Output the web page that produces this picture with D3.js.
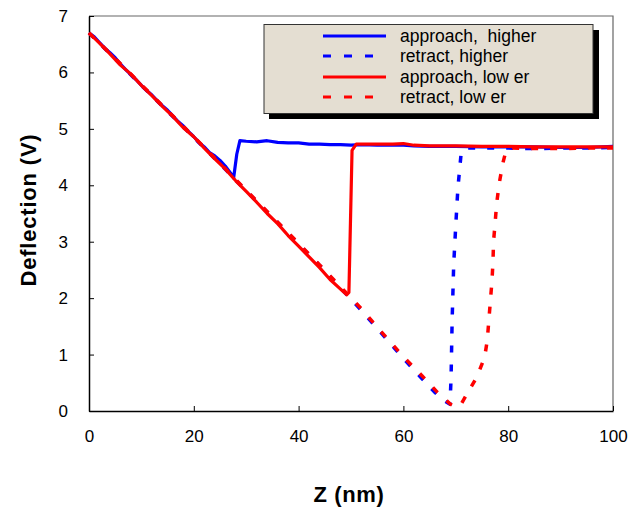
<!DOCTYPE html>
<html><head><meta charset="utf-8">
<script src="https://cdn.jsdelivr.net/npm/d3@7"></script>
<style>body{margin:0;background:#fff;} svg{display:block;font-family:"Liberation Sans",Arial,sans-serif;}</style>
</head><body>
<svg id="chart" width="637" height="508"></svg>
<script>
// ---- data ----
const xTicks = [0, 20, 40, 60, 80, 100];
const yTicks = [0, 1, 2, 3, 4, 5, 6, 7];

const approachHigherZ = [0,1,2,3,4,5,6,7,8,9,10,11,12,13,14,15,16,17,18,19,20,21,22,23,24,25,26,27,27.6,28.2,28.8,30,32,34,36,38,40,42,44,46,48,50,52,55,58,60,62,65,70,75,80,85,90,95,100];
const approachHigherV = [6.70,6.63,6.53,6.43,6.35,6.26,6.15,6.05,5.96,5.87,5.77,5.68,5.60,5.50,5.41,5.33,5.23,5.13,5.05,4.95,4.86,4.76,4.68,4.58,4.52,4.44,4.34,4.22,4.13,4.55,4.79,4.78,4.77,4.79,4.76,4.75,4.75,4.73,4.73,4.72,4.72,4.71,4.72,4.71,4.71,4.71,4.70,4.69,4.69,4.68,4.68,4.68,4.67,4.67,4.69];

const retractHigherZ = [0,5,10,15,20,25,30,35,40,44,48,52,56,60,63,66,68,68.9,69.1,69.3,69.6,70.0,70.4,71.0,71.8,75,80,85,90,95,100];
const retractHigherV = [6.70,6.24,5.77,5.31,4.85,4.38,3.90,3.43,2.96,2.58,2.18,1.78,1.36,0.93,0.63,0.33,0.17,0.12,0.6,1.6,2.6,3.3,3.95,4.55,4.66,4.66,4.66,4.65,4.66,4.66,4.67];

const approachLowerZ = [0,2,4,6,8,10,12,14,16,18,20,22,24,26,28,30,32,34,36,38,40,42,44,46,48,49.2,49.6,50.2,51,53,55,58,60,62,65,70,75,80,85,90,95,100];
const approachLowerV = [6.70,6.52,6.33,6.13,5.97,5.77,5.59,5.40,5.22,5.02,4.86,4.66,4.47,4.29,4.08,3.89,3.70,3.50,3.32,3.11,2.92,2.73,2.54,2.33,2.16,2.06,2.10,4.62,4.73,4.73,4.73,4.73,4.74,4.71,4.70,4.70,4.69,4.69,4.68,4.68,4.68,4.68];

const retractLowerZ = [0,5,10,15,20,25,30,35,40,44,48,52,56,60,63.5,66.5,69,70,71,72,74,75.5,76,76.3,76.6,76.9,77.1,77.2,77.5,77.8,78.3,79,79.6,80.5,85,90,95,100];
const retractLowerV = [6.70,6.25,5.78,5.32,4.86,4.39,3.91,3.44,2.97,2.59,2.20,1.81,1.38,0.96,0.63,0.33,0.12,0.07,0.12,0.28,0.60,0.95,1.25,1.60,1.95,2.30,2.65,3.00,3.33,3.68,4.04,4.40,4.62,4.66,4.65,4.65,4.66,4.66];

const seriesNames = ["approach,  higher", "retract, higher", "approach, low er", "retract, low er"];
const seriesColors = ["#0000ff", "#0000ff", "#ff0000", "#ff0000"];
const seriesDashed = [false, true, false, true];

// ---- layout ----
const svg = d3.select("#chart");
const x = d3.scaleLinear().domain([0, 100]).range([89, 613]);
const y = d3.scaleLinear().domain([0, 7]).range([411, 16]);

// frame (top & right)
svg.append("path").attr("d", `M${x(0)},${y(7)}H${x(100)}V${y(0)}`)
  .attr("fill", "none").attr("stroke", "#666").attr("stroke-width", 1.2);

// axes
const xAxis = svg.append("g").attr("transform", `translate(0,${y(0)})`)
  .call(d3.axisBottom(x).tickValues(xTicks).tickFormat(d3.format("d")).tickSizeInner(-5).tickSizeOuter(0).tickPadding(20));
const yAxis = svg.append("g").attr("transform", `translate(${x(0)},0)`)
  .call(d3.axisLeft(y).tickValues(yTicks).tickFormat(d3.format("d")).tickSizeInner(-5).tickSizeOuter(0).tickPadding(21));
[xAxis, yAxis].forEach(g => {
  g.select(".domain").attr("stroke", "#000").attr("stroke-width", 1.5);
  g.selectAll(".tick line").attr("stroke", "#000").attr("stroke-width", 1);
  g.selectAll(".tick text").attr("font-size", 17).attr("fill", "#000")
    .attr("font-family", "'Liberation Sans', Arial, sans-serif");
});
xAxis.selectAll(".tick text").attr("dy", "0.71em").attr("y", 19);

// series
const allSeries = [
  [approachHigherZ, approachHigherV],
  [retractHigherZ, retractHigherV],
  [approachLowerZ, approachLowerV],
  [retractLowerZ, retractLowerV]
];
const line = d3.line().x(d => x(d[0])).y(d => y(d[1]));
[0, 1, 2, 3].forEach(i => {
  const [zs, vs] = allSeries[i];
  const pts = zs.map((z, k) => [z, vs[k]]);
  svg.append("path").datum(pts).attr("d", line)
    .attr("fill", "none").attr("stroke", seriesColors[i])
    .attr("stroke-width", seriesDashed[i] ? 3.5 : 3.2)
    .attr("stroke-linejoin", "round")
    .attr("stroke-dasharray", seriesDashed[i] ? "7,12" : null);
});

// legend
const lg = svg.append("g");
lg.append("rect").attr("x", 269).attr("y", 30).attr("width", 330).attr("height", 89).attr("fill", "#000");
lg.append("rect").attr("x", 264).attr("y", 24.5).attr("width", 329).attr("height", 89)
  .attr("fill", "#e4ded2").attr("stroke", "#333").attr("stroke-width", 1);
const rowY = [36, 56, 77, 97];
seriesNames.forEach((name, i) => {
  lg.append("line").attr("x1", 323).attr("x2", 386).attr("y1", rowY[i]).attr("y2", rowY[i])
    .attr("stroke", seriesColors[i]).attr("stroke-width", 3)
    .attr("stroke-dasharray", seriesDashed[i] ? "8,13" : null);
  lg.append("text").attr("x", 400).attr("y", rowY[i]).attr("dy", "0.35em")
    .attr("font-size", 17.5).attr("fill", "#000").style("white-space", "pre").text(name);
});

// axis titles
svg.append("text").attr("x", 349).attr("y", 502).attr("text-anchor", "middle")
  .attr("font-size", 22).attr("font-weight", "bold").attr("letter-spacing", 0.6).text("Z (nm)");
svg.append("text").attr("transform", "translate(36,210) rotate(-90)").attr("text-anchor", "middle")
  .attr("font-size", 22).attr("font-weight", "bold").attr("letter-spacing", 0.8).text("Deflection (V)");
</script>
</body></html>
